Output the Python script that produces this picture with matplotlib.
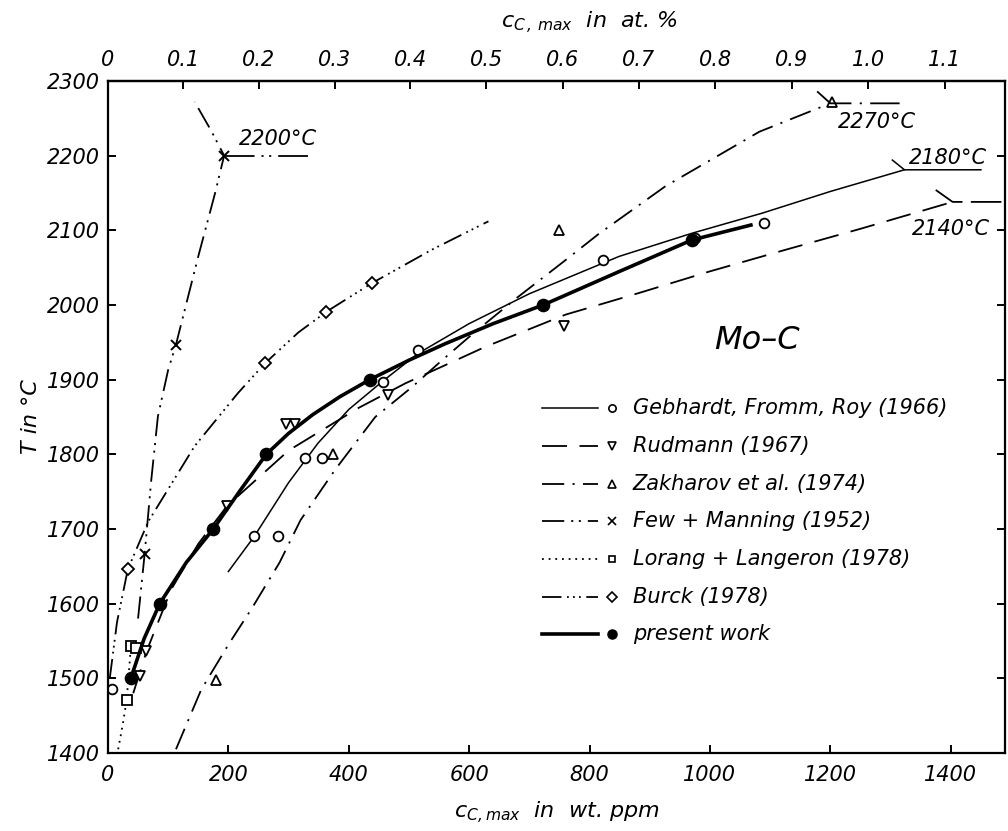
import numpy as np
import matplotlib.pyplot as plt

plt.rcParams['font.family'] = ['DejaVu Sans']
plt.rcParams['font.style'] = 'italic'
plt.rcParams['mathtext.fontset'] = 'dejavusans'
plt.rcParams['lines.scale_dashes'] = False

# Gebhardt, Fromm, Roy (1966) - thin solid, open circles
geb_x = [6, 243, 283, 328, 356, 457, 515, 822, 975, 1090]
geb_t = [1485, 1690, 1690, 1795, 1795, 1897, 1940, 2060, 2090, 2110]
geb_line_x = [200, 243, 300, 349, 400, 455, 515, 600, 700, 849, 970, 1087, 1200, 1323]
geb_line_t = [1643, 1690, 1762, 1815, 1860, 1897, 1935, 1975, 2015, 2065, 2096, 2123, 2152, 2181]
geb_kink_x = [1303, 1323, 1450]
geb_kink_t = [2194, 2181, 2181]

# Rudmann (1967) - long dashes, down triangles
rud_x = [54, 64, 198, 295, 310, 465, 758]
rud_t = [1503, 1536, 1731, 1840, 1840, 1880, 1972]
rud_line_x = [42, 64, 105, 150, 198, 300, 416, 494, 627, 760, 882, 1000, 1126, 1250, 1403]
rud_line_t = [1480, 1536, 1619, 1680, 1731, 1805, 1862, 1895, 1944, 1987, 2016, 2045, 2074, 2102, 2138]
rud_kink_x = [1375, 1403, 1490]
rud_kink_t = [2154, 2138, 2138]

# Zakharov et al. (1974) - dash-dot, up triangles
zak_x = [180, 374, 750, 1203]
zak_t = [1498, 1800, 2100, 2272]
zak_line_x = [113, 155, 200, 240, 285, 320, 377, 444, 505, 555, 604, 680, 760, 815, 926, 1082, 1200]
zak_line_t = [1405, 1485, 1545, 1595, 1655, 1712, 1779, 1850, 1890, 1926, 1960, 2010, 2060, 2095, 2159, 2232, 2270]
zak_kink_x = [1178, 1200, 1315]
zak_kink_t = [2286, 2270, 2270]

# Few + Manning (1952) - dash-dot-dot, crosses
few_x = [61, 113, 193]
few_t = [1667, 1947, 2199]
few_line_x = [50, 61, 72, 83, 100, 113, 150, 178, 193, 171, 144]
few_line_t = [1580, 1667, 1766, 1851, 1913, 1947, 2065, 2150, 2200, 2234, 2272]
few_kink_x = [193, 333]
few_kink_t = [2200, 2200]

# Lorang + Langeron (1978) - dotted, squares
lor_x = [31, 38, 47]
lor_t = [1471, 1543, 1540]
lor_line_x = [17, 25, 31, 35, 38]
lor_line_t = [1405, 1440, 1471, 1510, 1543]

# Burck (1978) - dash-dot-dot-dot, diamonds
bur_x = [33, 261, 363, 438]
bur_t = [1646, 1922, 1991, 2029]
bur_line_x = [3, 15, 33, 67, 144, 216, 261, 316, 363, 438, 538, 632]
bur_line_t = [1500, 1575, 1646, 1710, 1811, 1882, 1922, 1963, 1991, 2029, 2074, 2112]

# present work - thick solid, filled dots
pre_x = [38, 86, 175, 263, 435, 723, 970]
pre_t = [1500, 1600, 1700, 1800, 1900, 2000, 2087]
pre_line_x = [38, 60, 86, 130, 175, 220, 263, 300, 340, 385, 435, 500, 560, 640, 723, 850, 970, 1068]
pre_line_t = [1500, 1553, 1600, 1655, 1700, 1752, 1800, 1828, 1853, 1877, 1900, 1926, 1948, 1975, 2000, 2045, 2087, 2107]

labels = ["Gebhardt, Fromm, Roy (1966)", "Rudmann (1967)", "Zakharov et al. (1974)",
          "Few + Manning (1952)", "Lorang + Langeron (1978)", "Burck (1978)", "present work"]

# temperature labels at the ends of the curves
end_labels = ["2200°C", "2180°C", "2270°C", "2140°C"]
end_x = [282, 1395, 1278, 1400]
end_t = [2222, 2197, 2245, 2102]

at_ticks = [0, 0.1, 0.2, 0.3, 0.4, 0.5, 0.6, 0.7, 0.8, 0.9, 1.0, 1.1]
at_labels = ["0", "0.1", "0.2", "0.3", "0.4", "0.5", "0.6", "0.7", "0.8", "0.9", "1.0", "1.1"]


def ppm_to_at(ppm):
    w = np.asarray(ppm, dtype=float) * 1e-6
    return (w / 12.011) / (w / 12.011 + (1 - w) / 95.95) * 100


def at_to_ppm(a):
    a = np.asarray(a, dtype=float)
    return a * 12.011 / (a * 12.011 + (100 - a) * 95.95) * 1e6


dash = (0, (18, 9))
dashdot = (0, (16, 6, 1.5, 6))
dashdotdot = (0, (16, 5, 1.5, 4, 1.5, 5))
dotted = (0, (1.3, 3.5))
dash3dot = (0, (14, 4, 1.3, 3, 1.3, 3, 1.3, 4))

series = [
    (geb_line_x, geb_line_t, geb_x, geb_t, '-', 1.1, dict(marker='o', ms=7, mfc='white')),
    (rud_line_x, rud_line_t, rud_x, rud_t, dash, 1.3, dict(marker='v', ms=7.5, mfc='white')),
    (zak_line_x, zak_line_t, zak_x, zak_t, dashdot, 1.3, dict(marker='^', ms=7.5, mfc='white')),
    (few_line_x, few_line_t, few_x, few_t, dashdotdot, 1.3, dict(marker='x', ms=7, mew=1.4)),
    (lor_line_x, lor_line_t, lor_x, lor_t, dotted, 1.3, dict(marker='s', ms=6.5, mfc='white')),
    (bur_line_x, bur_line_t, bur_x, bur_t, dash3dot, 1.3, dict(marker='D', ms=6.5, mfc='white')),
    (pre_line_x, pre_line_t, pre_x, pre_t, '-', 2.6, dict(marker='o', ms=8.5, mfc='black')),
]

fig = plt.figure(figsize=(10.08, 8.31), dpi=100)
ax = fig.add_axes([0.1071, 0.0939, 0.8899, 0.8087])

for lx, lt, px, pt, ls, lw, mk in series:
    ax.plot(lx, lt, color='black', ls=ls, lw=lw)
    ax.plot(px, pt, ls='none', color='black', mec='black', mew=mk.get('mew', 1.3),
            marker=mk['marker'], ms=mk['ms'], mfc=mk.get('mfc', 'black'))

# end segments (kinks and horizontals)
ax.plot(geb_kink_x, geb_kink_t, color='black', lw=1.1)
ax.plot(rud_kink_x, rud_kink_t, color='black', lw=1.3, ls=(0, (22, 6)))
ax.plot(zak_kink_x, zak_kink_t, color='black', lw=1.3, ls=(0, (28, 6, 1.5, 6)))
ax.plot(few_kink_x, few_kink_t, color='black', lw=1.3, ls=(0, (22, 5, 1.5, 4, 1.5, 5)))

for s, x, t in zip(end_labels, end_x, end_t):
    ax.text(x, t, s, fontsize=15, ha='center', va='center')

ax.text(1078, 1953, "Mo–C", fontsize=23, ha='center', va='center')

# legend drawn by hand so the marker sits at the end of the line sample
row0 = 0.513
step = 0.0561
for i, (lx, lt, px, pt, ls, lw, mk) in enumerate(series):
    y = row0 - i * step
    ax.plot([0.484, 0.546], [y, y], transform=ax.transAxes, color='black', ls=ls, lw=lw)
    ax.plot([0.562], [y], transform=ax.transAxes, ls='none', color='black',
            marker=mk['marker'], ms=mk['ms'] * 0.75, mfc=mk.get('mfc', 'black'),
            mec='black', mew=1.2)
    ax.text(0.585, y, labels[i], transform=ax.transAxes, fontsize=15, va='center', ha='left')

ax.set_xlim(0, 1490)
ax.set_ylim(1400, 2300)
ax.set_xticks(range(0, 1401, 200))
ax.set_yticks(range(1400, 2301, 100))
ax.tick_params(direction='in', length=6, width=1.4, labelsize=15, right=True)
ax.tick_params(axis='x', pad=9)
ax.tick_params(axis='y', pad=6)
for sp in ax.spines.values():
    sp.set_linewidth(1.6)

sec = ax.secondary_xaxis('top', functions=(ppm_to_at, at_to_ppm))
sec.set_xticks(at_ticks)
sec.set_xticklabels(at_labels)
sec.tick_params(direction='in', length=6, width=1.4, labelsize=15, pad=8)
sec.spines['top'].set_linewidth(1.6)

ax.set_xlabel(r"$c_{C,max}$  in  wt. ppm", fontsize=16, labelpad=10)
ax.set_ylabel("T in °C", fontsize=16, labelpad=4)
fig.text(0.585, 0.972, r"$c_{C\,,\,max}$  in  at. %", fontsize=16, ha='center', va='center')

fig.savefig("out.png", dpi=100)
